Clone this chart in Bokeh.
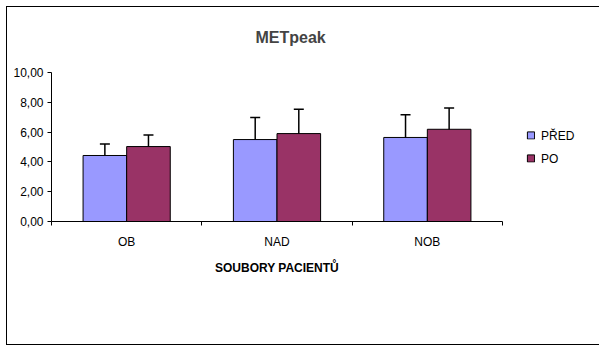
from bokeh.plotting import figure
from bokeh.models import (ColumnDataSource, Range1d, LinearAxis,
                          FixedTicker, Whisker, TeeHead, Legend, LegendItem)
from bokeh.transform import dodge
from bokeh.embed import file_html
from bokeh.resources import INLINE

categories = ["OB", "NAD", "NOB"]
pred = [4.43, 5.50, 5.64]
pred_err = [0.77, 1.48, 1.53]
po = [5.03, 5.90, 6.19]
po_err = [0.77, 1.64, 1.43]
y_ticks = [0, 2, 4, 6, 8, 10]
y_tick_labels = ["0,00", "2,00", "4,00", "6,00", "8,00", "10,00"]
series_names = ["PŘED", "PO"]
title_text = "METpeak"
x_title = "SOUBORY PACIENTŮ"

FONT = "Liberation Sans"

n = len(categories)
xc = [i + 0.5 for i in range(n)]
src = ColumnDataSource(dict(
    x=xc,
    pred=pred, po=po,
    pred_hi=[v + e for v, e in zip(pred, pred_err)],
    pred_lo=[v - e for v, e in zip(pred, pred_err)],
    po_hi=[v + e for v, e in zip(po, po_err)],
    po_lo=[v - e for v, e in zip(po, po_err)],
))

p = figure(x_range=Range1d(0, n), y_range=Range1d(0, 10),
           frame_width=451, frame_height=149, output_backend="svg", toolbar_location=None,
           x_axis_location=None, min_border_left=51, min_border_right=97,
           min_border_top=72, min_border_bottom=130)
p.background_fill_color = "white"
p.border_fill_alpha = 0
p.outline_line_color = None
p.xgrid.visible = False
p.ygrid.visible = False
p.styles = {"outline": "1.5px solid black", "outline-offset": "-7.5px",
            "background-color": "white"}

# y axis
ya = p.yaxis[0]
ya.ticker = FixedTicker(ticks=y_ticks)
ya.major_label_overrides = {t: l for t, l in zip(y_ticks, y_tick_labels)}
ya.minor_tick_line_color = None
ya.major_tick_in = 0
ya.major_tick_out = 4
ya.major_label_text_font = FONT
ya.major_label_text_font_size = "12px"
ya.major_label_text_color = "black"
ya.axis_line_color = "black"
ya.major_tick_line_color = "black"
ya.major_label_standoff = 4

# boundary tick axis
bt = list(range(n + 1))
ba = LinearAxis(ticker=FixedTicker(ticks=bt))
ba.major_label_text_font_size = "0px"
ba.major_label_overrides = {t: "" for t in bt}
ba.major_tick_in = 0
ba.major_tick_out = 4
ba.minor_tick_line_color = None
ba.axis_line_color = "black"
ba.major_label_standoff = 0
p.add_layout(ba, "below")

# category axis
ca = LinearAxis(ticker=FixedTicker(ticks=xc))
ca.major_label_overrides = {x: c for x, c in zip(xc, categories)}
ca.axis_line_color = None
ca.major_tick_line_color = None
ca.minor_tick_line_color = None
ca.major_label_text_font = FONT
ca.major_label_text_font_size = "12px"
ca.major_label_text_color = "black"
ca.major_label_standoff = 3
ca.axis_label = x_title
ca.axis_label_text_font = FONT
ca.axis_label_text_font_size = "12px"
ca.axis_label_text_font_style = "bold"
ca.axis_label_text_color = "black"
ca.axis_label_standoff = 9
p.add_layout(ca, "below")

off = 0.145
bw = 0.29
r1 = p.vbar(x=dodge("x", -off), top="pred", width=bw, source=src,
            fill_color="#9999FF", line_color="black", line_width=1)
r2 = p.vbar(x=dodge("x", off), top="po", width=bw, source=src,
            fill_color="#993366", line_color="black", line_width=1)

for lo, hi, o in (("pred_lo", "pred_hi", -off), ("po_lo", "po_hi", off)):
    w = Whisker(base=dodge("x", o), lower=lo, upper=hi, source=src,
                line_color="black", line_width=1.5,
                upper_head=TeeHead(size=10, line_width=1.5, line_color="black"),
                lower_head=TeeHead(size=10, line_width=1.5, line_color="black"))
    p.add_layout(w)

legend = Legend(items=[LegendItem(label=series_names[0], renderers=[r1]),
                       LegendItem(label=series_names[1], renderers=[r2])],
                location="center_left")
legend.glyph_width = 9
legend.glyph_height = 9
legend.label_standoff = 6
legend.spacing = 9
legend.padding = 0
legend.margin = 24
legend.border_line_color = None
legend.background_fill_alpha = 0
legend.label_text_font = FONT
legend.label_text_font_size = "12px"
legend.label_text_color = "black"
p.add_layout(legend, "right")

p.title.text = title_text
p.title.text_font = FONT
p.title.text_font_size = "16px"
p.title.text_font_style = "bold"
p.title.align = "left"
p.title.vertical_align = "top"
p.title.offset = 204
p.title.standoff = 50

open("out.html", "w").write(file_html(p, INLINE))
